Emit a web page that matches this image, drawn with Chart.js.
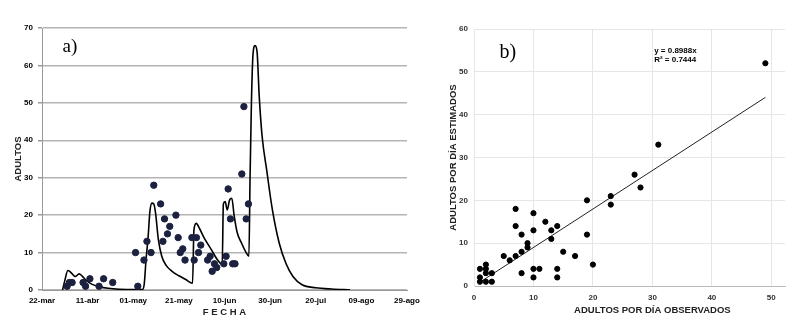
<!DOCTYPE html>
<html>
<head>
<meta charset="utf-8">
<script src="https://cdn.jsdelivr.net/npm/chart.js@4"></script>
<style>
  body { margin: 0; background: #fff; }
  #wrap { position: relative; width: 800px; height: 326px; }
  #timeChart { position: absolute; left: 0; top: 0; }
  #fitChart { position: absolute; left: 430px; top: 0; }
</style>
</head>
<body>
<div id="wrap">
  <canvas id="timeChart" width="430" height="326"></canvas>
  <canvas id="fitChart" width="370" height="326"></canvas>
</div>
<script>
// panel a) - observed adults per day vs model curve (days from 22-mar)
const dateTicks = ['22-mar', '11-abr', '01-may', '21-may', '10-jun', '30-jun', '20-jul', '09-ago', '29-ago'];

const obsDay = [11, 12, 13.2, 18, 19.1, 21, 25, 27, 31, 41, 42, 44.7, 46, 47.8, 49, 52, 53, 53.7, 55, 56,
  58.7, 59.7, 60.6, 61.7, 62.7, 65.7, 66.7, 67.7, 68.6, 69.6, 72.6, 73.7, 74.6, 75.6, 76.6,
  79.7, 80.7, 81.6, 82.6, 83.6, 84.6, 87.6, 88.5, 89.5, 90.5];
const obsAdults = [1, 2, 2, 2, 1, 3, 1, 3, 2, 10, 1, 8, 13, 10, 28, 23, 13, 19, 15, 17,
  20, 14, 10, 11, 8, 14, 8, 14, 10, 12, 8, 9, 5, 7, 6,
  7, 9, 27, 19, 7, 7, 31, 49, 19, 23];

const modelDay = [9, 10, 11.3, 12.5, 14.5, 16.3, 17.5, 19.5, 22, 25,
  29, 34, 40, 44, 44.8, 45.6, 46.5, 47.3, 48.2, 49,
  49.8, 51, 52.5, 54.5, 57, 60, 63, 66, 66.6, 67.6,
  69, 71, 74, 77, 79, 79.5, 80.3, 81.2, 82.2, 83.2,
  84.2, 85.5, 87.5, 89.5, 90.7, 91.2, 91.8, 92.5, 93.4, 94.3,
  95.2, 96.5, 98.5, 101, 104, 107, 110, 114, 120, 127, 135];
const modelAdults = [0, 2.5, 5.2, 4.8, 3.6, 4.3, 3.8, 2.5, 1.5, 0.9,
  0.45, 0.2, 0.1, 0.1, 1.5, 8, 14, 21, 23.2, 23,
  20.5, 13.5, 9, 6.5, 5, 3.8, 2.8, 1.8, 16, 17.8,
  16.5, 14, 11, 8, 6.8, 23, 23.6, 21.4, 24, 24.5,
  20, 15.5, 12.5, 10, 9, 30, 50, 63, 65.3, 63.5,
  52, 41, 32, 21.4, 12.5, 7, 3.6, 1.4, 0.6, 0.25, 0.05];

// panel b) - observed vs estimated adults per day
const obsX = [1, 1, 1, 2, 2, 2, 2, 3, 3, 5, 6, 7, 7, 7, 8, 8, 8, 9, 9, 10, 10, 10, 10, 11, 12,
  13, 13, 14, 14, 14, 15, 17, 19, 19, 20, 23, 23, 27, 28, 31, 49];
const estY = [4, 2, 1, 5, 4, 3, 1, 3, 1, 7, 6, 7, 14, 18, 8, 12, 3, 9, 10, 17, 13, 4, 2, 4, 15,
  13, 11, 14, 4, 2, 8, 7, 20, 12, 5, 21, 19, 26, 23, 33, 52];
const trendX = [1, 49];
const trendY = [0.9, 44.04];

Chart.defaults.font.family = '"Liberation Sans", Arial, sans-serif';
Chart.defaults.animation = false;

function pairs(xs, ys) {
    return xs.map((x, i) => ({ x: x, y: ys[i] }));
}

// small plugin to write free text at data coordinates
const notesPlugin = {
    id: 'notes',
    afterDraw(chart, args, opts) {
        const ctx = chart.ctx;
        const xs = chart.scales.x, ys = chart.scales.y;
        ctx.save();
        (opts.items || []).forEach(n => {
            ctx.font = n.font;
            ctx.fillStyle = n.color || '#000';
            ctx.textAlign = n.align || 'left';
            ctx.textBaseline = n.baseline || 'alphabetic';
            const px = xs.getPixelForValue(n.x);
            const py = n.below != null ? chart.chartArea.bottom + n.below : ys.getPixelForValue(n.y);
            ctx.fillText(n.text, px, py);
        });
        ctx.restore();
    }
};

new Chart(document.getElementById('timeChart'), {
    type: 'scatter',
    data: {
        datasets: [{
            data: pairs(obsDay, obsAdults),
            backgroundColor: '#1c2140',
            borderColor: '#1c2140',
            pointRadius: 3.2,
            pointHoverRadius: 3.2
        }, {
            data: pairs(modelDay, modelAdults),
            showLine: true,
            borderColor: '#000',
            borderWidth: 1.6,
            pointRadius: 0,
            cubicInterpolationMode: 'monotone'
        }]
    },
    options: {
        responsive: false,
        maintainAspectRatio: false,
        devicePixelRatio: 1,
        layout: { padding: { left: 9, right: 23, top: 28, bottom: 0 } },
        plugins: {
            legend: { display: false },
            tooltip: { enabled: false },
            notes: {
                items: [
                    { text: 'a)', x: 9, y: 63.6, font: '19px "Liberation Serif", serif' },
                    { text: 'F E C H A', x: 80, below: 22, align: 'center', baseline: 'middle',
                      color: '#222', font: 'bold 9.5px "Liberation Sans", Arial' }
                ]
            }
        },
        scales: {
            x: {
                type: 'linear',
                min: 0,
                max: 160,
                grid: { display: false, drawTicks: false },
                border: { display: true, color: '#999', width: 1 },
                ticks: {
                    stepSize: 20,
                    padding: 6,
                    maxRotation: 0,
                    color: '#000',
                    font: { size: 8, weight: 'bold' },
                    callback: v => dateTicks[v / 20]
                },
                afterFit: s => { s.height = 36; }
            },
            y: {
                min: 0,
                max: 70,
                grid: { color: '#b4b4b4', lineWidth: 1.5, tickLength: 4, tickColor: '#999' },
                border: { display: true, color: '#999', width: 1 },
                ticks: {
                    stepSize: 10,
                    padding: 5,
                    color: '#000',
                    font: { size: 8, weight: 'bold' }
                },
                title: {
                    display: true,
                    text: 'ADULTOS',
                    color: '#222',
                    font: { size: 9.5, weight: 'bold' },
                    padding: { top: 4, bottom: 0 }
                },
                afterFit: s => { s.width = 33; }
            }
        }
    },
    plugins: [notesPlugin]
});

new Chart(document.getElementById('fitChart'), {
    type: 'scatter',
    data: {
        datasets: [{
            data: pairs(obsX, estY),
            backgroundColor: '#000',
            borderColor: '#000',
            pointRadius: 2.6,
            pointHoverRadius: 2.6
        }, {
            data: pairs(trendX, trendY),
            showLine: true,
            borderColor: '#222',
            borderWidth: 1,
            pointRadius: 0
        }]
    },
    options: {
        responsive: false,
        maintainAspectRatio: false,
        devicePixelRatio: 1,
        layout: { padding: { left: 14, right: 15, top: 29, bottom: 0 } },
        plugins: {
            legend: { display: false },
            tooltip: { enabled: false },
            notes: {
                items: [
                    { text: 'b)', x: 4.3, y: 53.3, font: '20px "Liberation Serif", serif' },
                    { text: 'y = 0.8988x', x: 30.3, y: 54.8, font: 'bold 8px "Liberation Sans", Arial', baseline: 'middle' },
                    { text: 'R\u00B2 = 0.7444', x: 30.3, y: 52.7, font: 'bold 8px "Liberation Sans", Arial', baseline: 'middle' },
                    { text: 'ADULTOS POR D\u00CDA OBSERVADOS', x: 30, below: 24, align: 'center', baseline: 'middle',
                      color: '#222', font: 'bold 9.5px "Liberation Sans", Arial' }
                ]
            }
        },
        scales: {
            x: {
                type: 'linear',
                min: 0,
                max: 52.3,
                grid: { color: '#e6e6e6', lineWidth: 1, drawTicks: false },
                border: { display: true, color: '#bbb', width: 1 },
                ticks: {
                    stepSize: 10,
                    includeBounds: false,
                    padding: 7,
                    maxRotation: 0,
                    color: '#333',
                    font: { size: 8, weight: 'bold' }
                },
                afterFit: s => { s.height = 40; }
            },
            y: {
                min: 0,
                max: 60,
                grid: { color: '#e6e6e6', lineWidth: 1, drawTicks: false },
                border: { display: true, color: '#e6e6e6', width: 1 },
                ticks: {
                    stepSize: 10,
                    padding: 6,
                    color: '#333',
                    font: { size: 8, weight: 'bold' }
                },
                title: {
                    display: true,
                    text: 'ADULTOS POR D\u00CDA ESTIMADOS',
                    color: '#222',
                    font: { size: 9.5, weight: 'bold' },
                    padding: { top: 4, bottom: 0 }
                },
                afterFit: s => { s.width = 30; }
            }
        }
    },
    plugins: [notesPlugin]
});
</script>
</body>
</html>
